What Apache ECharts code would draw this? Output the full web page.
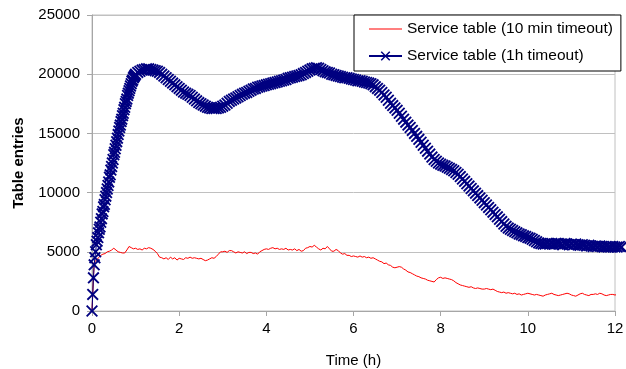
<!DOCTYPE html>
<html>
<head>
<meta charset="utf-8">
<script src="https://cdn.jsdelivr.net/npm/echarts@6/dist/echarts.min.js"></script>
<style>
  html, body { margin: 0; padding: 0; background: #fff; }
  #chart { width: 626px; height: 369px; }
</style>
</head>
<body>
<div id="chart"></div>
<script>
// Series names
const seriesNames = ['Service table (10 min timeout)', 'Service table (1h timeout)'];

// 10 min timeout: samples every 0.05 h starting at 0 h
const shortStep = 0.05;
const shortTimeout = [
  0, 4100, 4300, 4500, 4700, 4800, 4850, 5000, 5050, 5150,
  5300, 5150, 5000, 4950, 4900, 4900, 5150, 5450, 5350, 5250,
  5300, 5200, 5250, 5150, 5300, 5250, 5350, 5300, 5200, 5050,
  4850, 4550, 4500, 4400, 4500, 4350, 4550, 4400, 4500, 4300,
  4450, 4400, 4350, 4500, 4450, 4550, 4450, 4500, 4450, 4400,
  4450, 4350, 4250, 4300, 4400, 4500, 4450, 4600, 4800, 5000,
  5000, 5050, 4950, 5100, 5100, 5000, 4900, 5000, 4950, 4900,
  5000, 4850, 4950, 4950, 4850, 4900, 4800, 5000, 5100, 5200,
  5250, 5200, 5300, 5350, 5250, 5300, 5200, 5250, 5200, 5300,
  5150, 5200, 5150, 5250, 5100, 5200, 5050, 5100, 5300, 5350,
  5450, 5400, 5550, 5400, 5250, 5150, 5300, 5250, 5450, 5250,
  5050, 5050, 5200, 5100, 4900, 4800, 4850, 4700, 4700, 4600,
  4650, 4600, 4550, 4650, 4550, 4600, 4500, 4550, 4450, 4500,
  4400, 4300, 4200, 4150, 4000, 4050, 3900, 3850, 3700, 3650,
  3700, 3750, 3700, 3550, 3450, 3300, 3250, 3150, 3050, 2950,
  2900, 2800, 2750, 2700, 2600, 2550, 2500, 2450, 2650, 2800,
  2850, 2750, 2800, 2750, 2700, 2650, 2550, 2400, 2300, 2200,
  2150, 2100, 2050, 2000, 2050, 1950, 1900, 1950, 1900, 1850,
  1850, 1900, 1850, 1800, 1850, 1750, 1650, 1600, 1550, 1600,
  1500, 1550, 1500, 1450, 1500, 1400, 1450, 1350, 1400, 1450,
  1500, 1450, 1400, 1350, 1400, 1350, 1300, 1250, 1350, 1400,
  1450, 1500, 1400, 1350, 1300, 1350, 1400, 1450, 1500, 1450,
  1350, 1300, 1250, 1350, 1450, 1500, 1400, 1350, 1300, 1400,
  1400, 1450, 1400, 1500, 1450, 1350, 1300, 1350, 1400, 1400,
  1350, 1400, 1350, 1300, 1350
];

// 1h timeout, first hour: one sample per minute
const longRise = [
  0, 1400, 2800, 3900, 4500, 5000, 5600, 5900, 6200, 6600,
  6900, 7100, 7500, 7800, 8200, 8400, 8800, 9000, 9400, 9700,
  10000, 10300, 10600, 10900, 11300, 11500, 11900, 12200, 12500, 12800,
  13200, 13400, 13700, 14000, 14300, 14600, 14900, 15200, 15500, 15700,
  16000, 16200, 16500, 16700, 17000, 17200, 17500, 17700, 17900, 18200,
  18400, 18600, 18800, 19000, 19200, 19400, 19500, 19700, 19800, 19900
];

// 1h timeout from 1.0 h on: samples every 0.05 h
const longStart = 1.0;
const longStep = 0.05;
const longRest = [
  20000, 20150, 20250, 20350, 20400, 20450, 20450, 20400, 20350, 20300,
  20250, 20150, 20000, 19850, 19700, 19550, 19400, 19250, 19100, 18950,
  18800, 18650, 18500, 18400, 18300, 18200, 18050, 17900, 17750, 17600,
  17500, 17400, 17300, 17200, 17150, 17100, 17100, 17100, 17150, 17200,
  17300, 17400, 17550, 17700, 17800, 17900, 18000, 18100, 18200, 18300,
  18400, 18450, 18550, 18650, 18750, 18800, 18900, 18950, 19000, 19050,
  19100, 19150, 19200, 19250, 19300, 19350, 19400, 19450, 19500, 19550,
  19650, 19700, 19750, 19800, 19850, 19900, 19950, 20050, 20150, 20250,
  20350, 20450, 20500, 20550, 20500, 20400, 20300, 20200, 20150, 20100,
  20000, 19950, 19900, 19850, 19800, 19750, 19700, 19700, 19650, 19600,
  19550, 19500, 19450, 19450, 19400, 19350, 19300, 19250, 19200, 19100,
  18950, 18800, 18650, 18450, 18250, 18050, 17800, 17550, 17350, 17150,
  16950, 16700, 16450, 16200, 15950, 15700, 15500, 15250, 15000, 14750,
  14500, 14250, 14000, 13750, 13500, 13250, 13000, 12800, 12650, 12500,
  12400, 12300, 12250, 12150, 12050, 11950, 11850, 11700, 11550, 11350,
  11150, 10950, 10750, 10550, 10350, 10150, 9950, 9750, 9550, 9350,
  9150, 8950, 8750, 8550, 8350, 8150, 7950, 7750, 7550, 7350,
  7150, 7000, 6900, 6800, 6700, 6600, 6500, 6450, 6350, 6300,
  6200, 6150, 6050, 5950, 5850, 5750, 5700, 5650, 5650, 5700,
  5650, 5700, 5650, 5700, 5700, 5650, 5600, 5700, 5650, 5600,
  5650, 5600, 5650, 5600, 5550, 5600, 5550, 5500, 5550, 5500,
  5450, 5500, 5450, 5500, 5450, 5400, 5450, 5400, 5400, 5450,
  5400, 5400, 5450, 5400
];

// Axis ticks
const xTicks = [0, 2, 4, 6, 8, 10, 12];
const yTicks = [0, 5000, 10000, 15000, 20000, 25000];

const FONT = 'Arial, "Liberation Sans", sans-serif';
const GRID_GREY = '#c0c0c0';
const AXIS_GREY = '#a6a6a6';

const shortData = shortTimeout.map((v, i) => [+(i * shortStep).toFixed(4), v]);
const longData = longRise.map((v, i) => [i / 60, v])
  .concat(longRest.map((v, i) => [+(longStart + i * longStep).toFixed(4), v]));

// Cross ("X") marker as a filled outline
const crossSymbol = 'path://M0,1.1L1.1,0L5,3.9L8.9,0L10,1.1L6.1,5L10,8.9L8.9,10L5,6.1L1.1,10L0,8.9L3.9,5Z';
// Plain line used as the legend icon of the red series
const lineIcon = 'path://M0,0H33V1.2H0Z';

const chart = echarts.init(document.getElementById('chart'), null, { renderer: 'canvas' });
chart.setOption({
  animation: false,
  backgroundColor: '#fff',
  textStyle: { fontFamily: FONT },
  grid: {
    left: 92, right: 11, top: 15, bottom: 58,
    containLabel: false,
    outerBoundsMode: 'none',
    show: true, borderColor: GRID_GREY, borderWidth: 1, backgroundColor: 'transparent'
  },
  legend: {
    left: 354, top: 15,
    orient: 'vertical',
    backgroundColor: '#fff',
    borderColor: '#000', borderWidth: 1,
    padding: [5, 8, 6, 14],
    itemGap: 9,
    itemWidth: 33, itemHeight: 12,
    textStyle: { fontFamily: FONT, fontSize: 15.5, color: '#000', lineHeight: 18 },
    data: [
      { name: seriesNames[0], icon: lineIcon },
      { name: seriesNames[1] }
    ]
  },
  xAxis: {
    type: 'value',
    min: xTicks[0], max: xTicks[xTicks.length - 1], interval: 2,
    name: 'Time (h)',
    nameLocation: 'middle', nameGap: 42,
    nameTextStyle: { fontFamily: FONT, fontSize: 15, color: '#000' },
    axisLine: { lineStyle: { color: AXIS_GREY, width: 1 } },
    axisTick: { show: true, length: 5, lineStyle: { color: AXIS_GREY } },
    axisLabel: { fontFamily: FONT, fontSize: 15, color: '#000', margin: 10 },
    splitLine: { show: false }
  },
  yAxis: {
    type: 'value',
    min: yTicks[0], max: yTicks[yTicks.length - 1], interval: 5000,
    name: 'Table entries',
    nameLocation: 'middle', nameGap: 66, nameRotate: 90,
    nameTextStyle: { fontFamily: FONT, fontSize: 15, fontWeight: 'bold', color: '#000' },
    axisLine: { show: true, lineStyle: { color: AXIS_GREY, width: 1 } },
    axisTick: { show: true, length: 5, lineStyle: { color: AXIS_GREY } },
    axisLabel: { fontFamily: FONT, fontSize: 15, color: '#000', margin: 12, formatter: v => String(v) },
    splitLine: { show: true, lineStyle: { color: GRID_GREY, width: 1 } }
  },
  series: [
    {
      name: seriesNames[0],
      type: 'line',
      data: shortData,
      showSymbol: false,
      symbol: 'none',
      clip: false,
      lineStyle: { color: '#ff0000', width: 1 },
      itemStyle: { color: '#ff0000' },
      z: 2
    },
    {
      name: seriesNames[1],
      type: 'line',
      data: longData,
      symbol: crossSymbol,
      symbolSize: 12,
      showAllSymbol: true,
      clip: false,
      lineStyle: { color: '#000080', width: 1 },
      itemStyle: { color: '#000080' },
      z: 3
    }
  ]
});
</script>
</body>
</html>
